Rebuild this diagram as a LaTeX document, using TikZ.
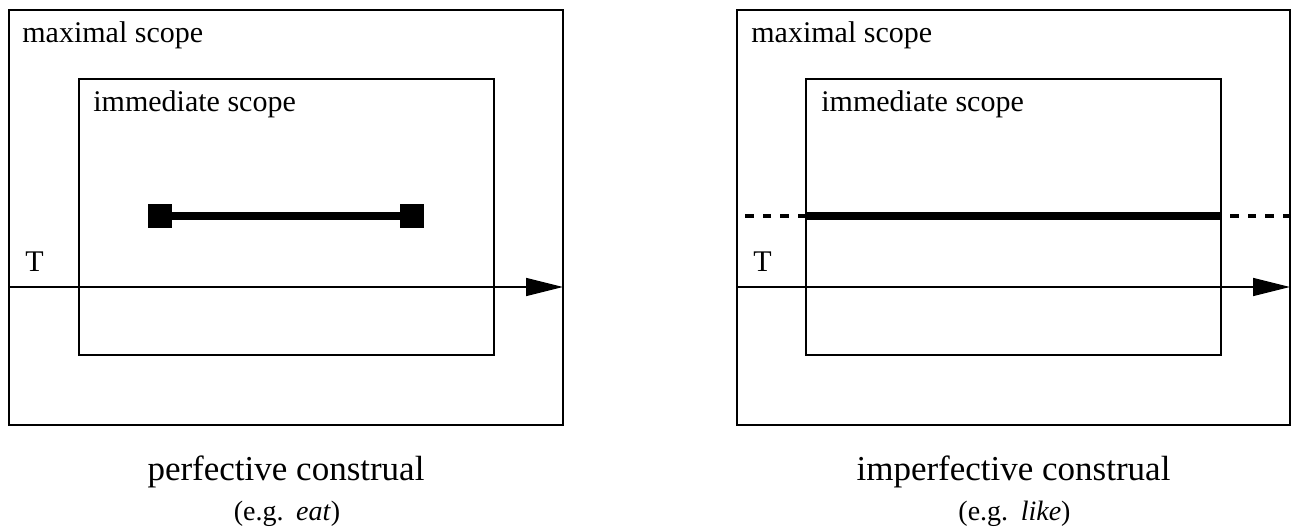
\documentclass[tikz,border=0pt]{standalone}
\usepackage{fontspec}
\setmainfont{Liberation Serif}
\usetikzlibrary{arrows.meta}
\begin{document}
\begin{tikzpicture}[x=0.5pt,y=-0.5pt,
  outerbox/.style={draw, line width=1.2pt, inner sep=0pt, outer sep=0pt,
                   minimum width=#1, minimum height=207.5pt},
  innerbox/.style={draw, line width=1.2pt, inner sep=0pt, outer sep=0pt,
                   minimum width=207.5pt, minimum height=138pt},
  boxlabel/.style={anchor=base west, inner sep=0pt, font=\fontsize{15}{18}\selectfont},
  caption/.style={anchor=base, inner sep=0pt, font=\fontsize{17.5}{21}\selectfont},
  example/.style={anchor=base, inner sep=0pt, font=\fontsize{14}{17}\selectfont},
  timeaxis/.style={line width=0.7pt, -{Triangle[length=18.5pt,width=9pt]}},
  endpt/.style={fill, inner sep=0pt, outer sep=0pt, minimum size=12pt},
  bar/.style={line width=4.4pt},
  extension/.style={line width=2.2pt, dash pattern=on 4.2pt off 4.55pt}]
\useasboundingbox (0,0) rectangle (1291,529);

% ---- perfective construal ----
\node[outerbox=277pt] (maxL) at (286,217.5) {};
\node[innerbox] (immL) at (286.5,217) {};
\node[boxlabel] (maxLlab) at (22,43) {maximal scope};
\node[boxlabel] (immLlab) at (93,112) {immediate scope};
\node[boxlabel] (tL) at (25,272) {T};
\coordinate (axLs) at (9,287);
\coordinate (axLe) at (563,287);
\draw[timeaxis] (axLs) -- (axLe);
\node[endpt] (begL) at (160,216) {};
\node[endpt] (endL) at (412,216) {};
\draw[bar] (begL) -- (endL);
\node[caption] (capL) at (286,480) {perfective construal};
\node[example] (exL) at (287,520) {(e.g.\hspace{0.45em}\textit{eat})};

% ---- imperfective construal ----
\node[outerbox=276.5pt] (maxR) at (1013.5,217.5) {};
\node[innerbox] (immR) at (1013.5,217) {};
\node[boxlabel] (maxRlab) at (751,43) {maximal scope};
\node[boxlabel] (immRlab) at (821,112) {immediate scope};
\node[boxlabel] (tR) at (753,272) {T};
\coordinate (axRs) at (737,287);
\coordinate (axRe) at (1290,287);
\draw[timeaxis] (axRs) -- (axRe);
\coordinate (stL) at (806,216);
\coordinate (stR) at (1221,216);
\coordinate (stLout) at (737,216);
\coordinate (stRout) at (1291,216);
\draw[bar] (stL) -- (stR);
\draw[extension] (stL) -- (stLout);
\draw[extension] (stRout) -- (stR);
\node[caption] (capR) at (1013.5,480) {imperfective construal};
\node[example] (exR) at (1014.5,520) {(e.g.\hspace{0.45em}\textit{like})};
\end{tikzpicture}
\end{document}
